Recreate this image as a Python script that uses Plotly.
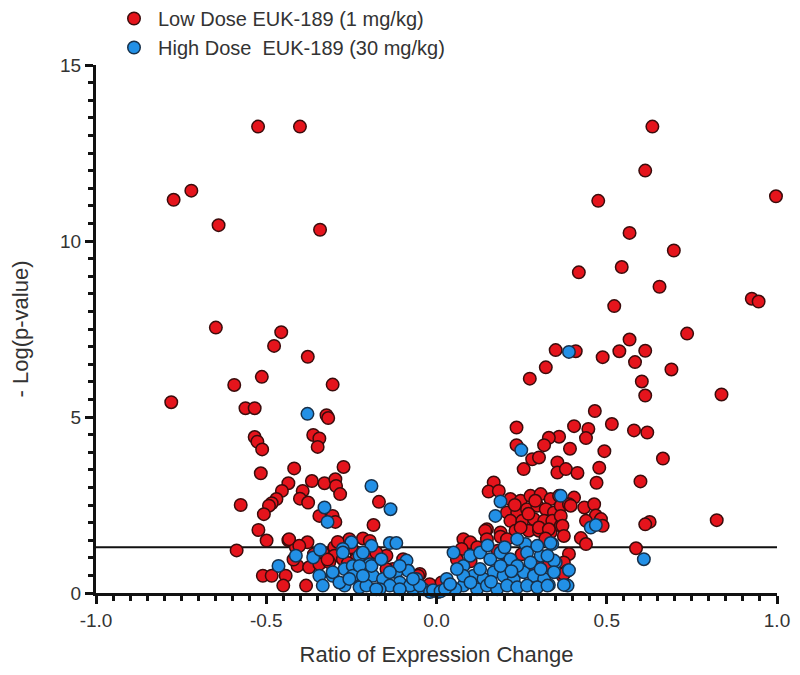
import plotly.graph_objects as go

# Low dose (red) points: (ratio of expression change, -log p)
low_dose_left = [
    (-0.524, 13.25), (-0.401, 13.25), (-0.72, 11.43), (-0.772, 11.17), (-0.64, 10.45), (-0.342, 10.32),
    (-0.648, 7.54), (-0.456, 7.41), (-0.477, 7.02), (-0.378, 6.71), (-0.513, 6.14), (-0.594, 5.91),
    (-0.305, 5.92), (-0.779, 5.42), (-0.561, 5.25), (-0.534, 5.25), (-0.323, 5.05), (-0.318, 4.97),
    (-0.534, 4.43), (-0.526, 4.30), (-0.512, 4.08), (-0.362, 4.49), (-0.344, 4.39), (-0.349, 4.15),
    (-0.516, 3.40), (-0.418, 3.54), (-0.273, 3.58), (-0.435, 3.12), (-0.454, 2.90), (-0.47, 2.67),
    (-0.484, 2.55), (-0.492, 2.48), (-0.366, 3.18), (-0.329, 3.12), (-0.297, 3.23), (-0.295, 3.04),
    (-0.283, 2.81), (-0.393, 2.90), (-0.401, 2.68), (-0.377, 2.57), (-0.575, 2.50), (-0.507, 2.24),
    (-0.344, 2.19), (-0.305, 2.19), (-0.297, 2.02), (-0.523, 1.79), (-0.499, 1.49), (-0.435, 1.50),
    (-0.587, 1.21), (-0.169, 2.59), (-0.185, 1.93),
    (-0.413, 1.30), (-0.379, 1.44), (-0.334, 1.15), (-0.30, 1.30), (-0.275, 1.20), (-0.433, 1.53),
    (-0.403, 1.34), (-0.256, 1.53), (-0.216, 1.55), (-0.196, 1.48), (-0.30, 1.06), (-0.275, 0.96),
    (-0.236, 1.15), (-0.216, 1.06), (-0.196, 0.96), (-0.408, 0.77), (-0.374, 0.73), (-0.344, 0.82),
    (-0.315, 0.87), (-0.51, 0.49), (-0.484, 0.49), (-0.443, 0.49), (-0.45, 0.21), (-0.383, 0.21),
    (-0.236, 0.96), (-0.147, 1.06), (-0.128, 0.68), (-0.088, 0.68), (-0.064, 0.40), (-0.049, 0.54),
    (-0.177, 1.15), (-0.147, 0.68), (-0.098, 0.96), (-0.054, 0.49), (-0.02, 0.25), (0.015, 0.30),
    (-0.36, 1.10), (-0.32, 0.95), (-0.26, 0.85), (-0.42, 0.95), (-0.29, 1.45), (-0.25, 1.30),
]
low_dose_right = [
    (0.634, 13.25), (0.613, 12.0), (0.997, 11.27), (0.475, 11.14), (0.567, 10.23), (0.697, 9.73),
    (0.418, 9.11), (0.544, 9.26), (0.655, 8.70), (0.926, 8.36), (0.946, 8.28), (0.522, 8.15),
    (0.736, 7.37), (0.567, 7.20), (0.350, 6.90), (0.409, 6.87), (0.537, 6.87), (0.488, 6.70),
    (0.613, 6.88), (0.583, 6.56), (0.321, 6.41), (0.274, 6.09), (0.690, 6.35), (0.603, 6.01),
    (0.613, 5.61), (0.837, 5.64), (0.465, 5.17), (0.235, 4.70), (0.235, 4.20), (0.404, 4.74),
    (0.446, 4.66), (0.439, 4.40), (0.515, 4.80), (0.58, 4.62), (0.619, 4.56), (0.360, 4.44),
    (0.330, 4.41), (0.316, 4.20), (0.392, 4.10), (0.493, 4.03), (0.281, 3.80), (0.301, 3.85),
    (0.256, 3.52), (0.355, 3.71), (0.355, 3.42), (0.38, 3.52), (0.414, 3.41), (0.478, 3.56),
    (0.470, 3.13), (0.599, 3.17), (0.665, 3.82), (0.168, 3.14), (0.153, 2.88), (0.183, 2.90),
    (0.217, 2.67), (0.247, 2.62), (0.276, 2.76), (0.306, 2.81), (0.335, 2.67), (0.360, 2.76),
    (0.207, 2.29), (0.237, 2.29), (0.266, 2.38), (0.296, 2.48), (0.321, 2.38), (0.345, 2.29),
    (0.217, 2.05), (0.252, 2.05), (0.286, 2.10), (0.316, 2.05), (0.340, 2.05), (0.148, 1.81),
    (0.188, 1.72), (0.232, 1.77), (0.271, 1.77), (0.301, 1.77), (0.335, 1.72), (0.365, 1.91),
    (0.404, 2.71), (0.434, 2.43), (0.463, 2.52), (0.468, 2.20), (0.439, 2.05), (0.483, 2.10),
    (0.488, 1.91), (0.365, 2.48), (0.389, 2.52), (0.365, 2.19), (0.370, 1.91), (0.374, 1.62),
    (0.424, 1.56), (0.439, 1.39), (0.394, 2.48), (0.079, 1.53), (0.099, 1.44), (0.074, 1.25),
    (0.143, 1.77), (0.188, 1.60), (0.247, 1.86), (0.301, 1.86), (0.330, 1.81), (0.148, 1.53),
    (0.207, 1.53), (0.626, 2.02), (0.613, 1.95), (0.823, 2.07), (0.586, 1.27), (0.389, 1.11),
    (0.374, 0.87), (0.385, 0.63), (0.370, 0.49), (0.276, 0.59), (0.374, 0.54), (0.12, 1.30),
    (0.18, 1.20), (0.25, 1.10), (0.30, 0.90), (0.33, 0.80), (0.20, 0.80), (0.10, 0.90),
    (0.06, 0.95), (0.256, 0.63), (0.27, 2.25), (0.29, 2.62), (0.23, 2.50), (0.32, 1.55),
]

# High dose (blue) points
high_dose_left = [
    (-0.379, 5.09), (-0.329, 2.43), (-0.32, 2.02), (-0.191, 3.04), (-0.135, 2.38), (-0.25, 1.44),
    (-0.191, 1.34), (-0.137, 1.42), (-0.118, 1.42), (-0.413, 1.06), (-0.362, 1.01), (-0.342, 1.23),
    (-0.464, 0.77), (-0.344, 0.49), (-0.305, 0.49), (-0.334, 0.21), (-0.27, 0.68), (-0.27, 0.21),
    (-0.275, 1.25), (-0.226, 1.06), (-0.196, 0.82), (-0.246, 0.77), (-0.305, 0.59), (-0.285, 0.30),
    (-0.216, 0.30), (-0.187, 0.49), (-0.157, 0.40), (-0.118, 0.59), (-0.088, 0.92), (-0.083, 0.63),
    (-0.108, 0.30), (-0.137, 0.21), (-0.167, 0.11), (-0.226, 0.16), (-0.246, 0.49), (-0.059, 0.40),
    (-0.039, 0.11), (-0.069, 0.11), (-0.191, 0.77), (-0.108, 0.77), (-0.137, 0.59), (-0.206, 0.21),
    (-0.226, 0.77), (-0.216, 1.15), (-0.275, 1.15), (-0.162, 0.96), (-0.078, 0.21), (-0.049, 0.21),
    (-0.019, 0.03), (0.005, 0.03), (-0.069, 0.40), (-0.108, 0.11), (-0.177, 0.11), (-0.216, 0.49),
    (-0.256, 0.40), (-0.01, 0.08), (0.012, 0.05),
]
high_dose_right = [
    (0.249, 4.06), (0.389, 6.85), (0.188, 2.60), (0.173, 2.19), (0.365, 2.76), (0.453, 1.86),
    (0.468, 1.93), (0.385, 0.21), (0.350, 0.87), (0.340, 1.39), (0.609, 0.96), (0.389, 0.65),
    (0.374, 0.23), (0.345, 0.92), (0.330, 0.23), (0.306, 1.06), (0.335, 1.42), (0.261, 1.39),
    (0.050, 1.15), (0.079, 0.77), (0.099, 1.06), (0.128, 1.15), (0.158, 0.96), (0.188, 1.15),
    (0.217, 0.96), (0.237, 1.53), (0.266, 1.15), (0.296, 1.34), (0.326, 1.06), (0.109, 0.49),
    (0.138, 0.40), (0.168, 0.59), (0.197, 0.49), (0.227, 0.40), (0.256, 0.59), (0.286, 0.49),
    (0.316, 0.40), (0.345, 0.59), (0.079, 0.21), (0.119, 0.11), (0.148, 0.21), (0.178, 0.11),
    (0.207, 0.21), (0.237, 0.16), (0.266, 0.21), (0.296, 0.16), (0.326, 0.21), (0.030, 0.40),
    (0.055, 0.11), (0.025, 0.11), (0.079, 0.49), (0.06, 0.68), (0.128, 0.68), (0.188, 0.77),
    (0.237, 0.77), (0.276, 0.87), (0.306, 0.68), (0.04, 0.25), (0.10, 0.30), (0.16, 0.32),
    (0.22, 0.62), (0.15, 1.35), (0.20, 1.30),
]

significance_threshold = 1.3
x_tick_values = [-1.0, -0.5, 0.0, 0.5, 1.0]
x_tick_labels = ["-1.0", "-0.5", "0.0", "0.5", "1.0"]
y_tick_values = [0, 5, 10, 15]
series_names = ["Low Dose EUK-189 (1 mg/kg)", "High Dose  EUK-189 (30 mg/kg)"]

FONT = "Liberation Sans, Arial, sans-serif"
low_pts = low_dose_left + low_dose_right
high_pts = high_dose_left + high_dose_right

fig = go.Figure()
fig.add_trace(go.Scatter(
    x=[p[0] for p in low_pts], y=[p[1] for p in low_pts], mode="markers",
    name=series_names[0].replace("  ", "\u00a0 "), cliponaxis=False,
    marker=dict(size=12.5, color="#e5141c", line=dict(color="#3a0c0c", width=1.5)),
))
fig.add_trace(go.Scatter(
    x=[p[0] for p in high_pts], y=[p[1] for p in high_pts], mode="markers",
    name=series_names[1].replace("  ", "\u00a0 "), cliponaxis=False,
    marker=dict(size=12.5, color="#2290e6", line=dict(color="#17304a", width=1.5)),
))

fig.add_shape(type="line", xref="x", yref="y", x0=-1.0, x1=1.0,
              y0=significance_threshold, y1=significance_threshold,
              line=dict(color="#111", width=2), layer="below")

axis_common = dict(showline=True, linecolor="#111", linewidth=3, ticks="outside",
                   ticklen=8, tickwidth=2.5, tickcolor="#111", showgrid=False,
                   zeroline=False, automargin=False,
                   tickfont=dict(family=FONT, size=19, color="#333"))

fig.update_xaxes(range=[-1.0, 1.0], tickvals=x_tick_values, ticktext=x_tick_labels,
                 minor=dict(dtick=0.05, tick0=0, ticks="outside", ticklen=5, tickwidth=2.5,
                            tickcolor="#111", showgrid=False),
                 title=dict(text="Ratio of Expression Change", font=dict(family=FONT, size=22, color="#333"),
                            standoff=17),
                 **axis_common)
fig.update_yaxes(range=[0, 15], tickvals=y_tick_values,
                 minor=dict(dtick=0.5, tick0=0, ticks="outside", ticklen=5, tickwidth=2.5,
                            tickcolor="#111", showgrid=False),
                 title=dict(text="- Log(p-value)", font=dict(family=FONT, size=22, color="#333"),
                            standoff=38),
                 **axis_common)

PLOT_L, PLOT_R, PLOT_T, PLOT_B = 88, 31, 57, 90
plot_h = 675 - PLOT_T - PLOT_B
fig.update_layout(
    width=800, height=675,
    margin=dict(l=PLOT_L, r=PLOT_R, t=PLOT_T, b=PLOT_B, autoexpand=False),
    plot_bgcolor="white", paper_bgcolor="white",
    font=dict(family=FONT, color="#333"),
    legend=dict(x=(102 - PLOT_L) / (800 - PLOT_L - PLOT_R), y=1 + (PLOT_T + 9) / plot_h,
                xref="paper", yref="paper", xanchor="left", yanchor="top",
                font=dict(family=FONT, size=20, color="#333"),
                bgcolor="rgba(0,0,0,0)", tracegroupgap=0, itemwidth=38),
    showlegend=True,
)

fig.write_html("out.html")
